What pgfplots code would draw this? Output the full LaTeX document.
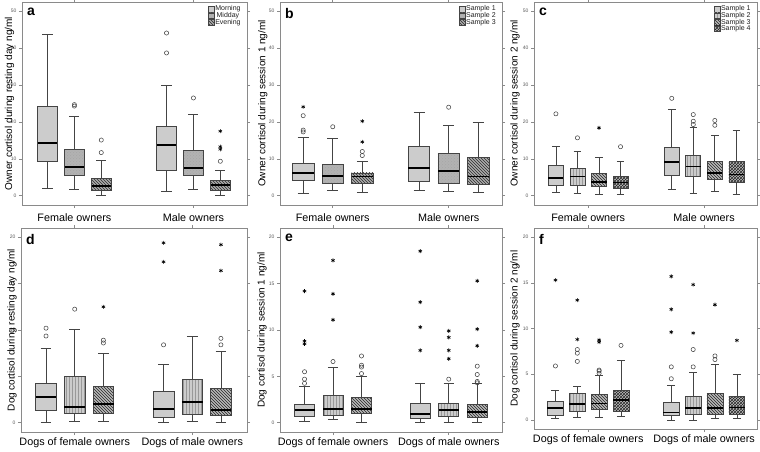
\documentclass[border=0pt]{standalone}
\usepackage{fontspec}
\setmainfont{Liberation Sans}
\usepackage{pgfplots}
\pgfplotsset{compat=1.18}
\usepgfplotslibrary{statistics}
\usetikzlibrary{patterns}

\definecolor{frame}{HTML}{8A8A8A}
\definecolor{boxline}{HTML}{444444}

% box fills
\tikzset{
  fA/.style={fill=gray!40},
  fM/.style={fill=gray!60, postaction={pattern=crosshatch dots, pattern color=gray!70}},
  fE/.style={fill=gray!65, postaction={pattern=north west lines, pattern color=gray!35!black}},
  fB/.style={fill=gray!40, postaction={pattern=vertical lines, pattern color=gray!80}},
  fC/.style={fill=gray!55, postaction={pattern=north west lines, pattern color=gray!30!black}},
  fD/.style={fill=gray!50, postaction={pattern=crosshatch, pattern color=gray!30!black}},
}

\pgfplotsset{
  panel/.style={scale only axis, anchor=south west, clip=false,
    axis line style={frame, line width=0.8pt},
    xtick={1,2}, tick align=outside, major tick length=3pt,
    tick style={frame, line width=0.6pt},
    xticklabel style={font=\fontsize{10.8}{12}\selectfont, yshift=-2.5pt},
    yticklabel style={font=\fontsize{5}{6}\selectfont, text=gray!70!black, xshift=1pt},
    /pgf/number format/assume math mode=true,
    ylabel style={font=\fontsize{10}{12}\selectfont, anchor=center},
    boxplot/draw direction=y,
    boxplot/every median/.style={draw=black, line width=1.6pt},
    legend style={at={(rel axis cs:0.975,0.985)}, anchor=north east, draw=none, fill=none,
      font=\fontsize{7}{7.5}\selectfont, inner sep=0pt, row sep=-1.2pt,
      nodes={inner sep=0.6pt}, text=gray!25!black},
  },
  toprow/.style={ymin=-2.5, ymax=52.5, ytick={0,10,...,50}, height=203pt,
    xticklabels={Female owners, Male owners}},
  botrow/.style={ymin=-1, ymax=21, ytick={0,5,...,20}, height=204pt,
    xticklabels={Dogs of female owners, Dogs of male owners},
    xticklabel style={inner sep=1.5pt, yshift=2pt}},
  olst/.style={only marks, mark=o, mark size=2.1pt, mark options={draw=boxline, line width=0.55pt}, forget plot},
  exst/.style={only marks, mark=asterisk, mark size=2pt, mark options={draw=black, line width=0.6pt}, forget plot},
}

% style, position, low whisker, Q1, median, Q3, high whisker
\newcommand{\bx}[7]{\addplot[forget plot, draw=boxline, line width=0.7pt,
  boxplot/every box/.style={#1},
  boxplot prepared={draw position=#2, lower whisker=#3, lower quartile=#4,
    median=#5, upper quartile=#6, upper whisker=#7}] coordinates {};}
\newcommand{\ol}[1]{\addplot[olst] coordinates {#1};}
\newcommand{\ex}[1]{\addplot[exst] coordinates {#1};}
\newcommand{\sw}[2]{\addlegendimage{legend image code/.code={\draw[#1, draw=boxline, line width=0.4pt] (0pt,-2.6pt) rectangle (6pt,3pt);}}\addlegendentry{#2}}
\newcommand{\letter}[1]{\node[anchor=north west, inner sep=0pt, font=\fontsize{14}{14}\selectfont\bfseries, xshift=5pt, yshift=-6pt] at (rel axis cs:0,1) {#1};}

\begin{document}
\begin{tikzpicture}
\useasboundingbox (0pt,0pt) rectangle (760pt,451pt);

% ---------- a ----------
\begin{axis}[panel, toprow, at={(22pt,246pt)}, width=225pt, xmin=0.56, xmax=2.45,
  boxplot/box extend=0.163, boxplot/whisker extend=0.085,
  ylabel={Owner cortisol during resting day ng/ml},
  ylabel style={at={(axis description cs:-0.055,0.5)}}]
\sw{fA}{Morning}
\sw{fM}{Midday}
\sw{fE}{Evening}
\bx{fA}{0.774}{2.07}{9.3}{14.3}{24.3}{43.7}
\bx{fM}{1}{1.8}{5.5}{7.8}{12.6}{21.6}
\bx{fE}{1.226}{0.1}{1.4}{2.6}{4.8}{9.5}
\bx{fA}{1.774}{1.27}{6.8}{13.7}{18.9}{29.9}
\bx{fM}{2}{1.8}{5.4}{7.5}{12.4}{22.0}
\bx{fE}{2.226}{0.1}{1.6}{2.9}{4.2}{6.8}
\ol{(1,24.3) (1,24.7) (1.226,11.7) (1.226,15.1) (1.774,38.7) (1.774,44.1) (2,26.5) (2.226,9.35)}
\ex{(2.226,12.6) (2.226,13.3) (2.226,17.5)}
\letter{a}
\end{axis}

% ---------- b ----------
\begin{axis}[panel, toprow, at={(280pt,246pt)}, width=222pt, xmin=0.545, xmax=2.46,
  boxplot/box extend=0.185, boxplot/whisker extend=0.095,
  ylabel={Owner cortisol during session 1 ng/ml},
  ylabel style={at={(axis description cs:-0.077,0.5)}}]
\sw{fA}{Sample 1}
\sw{fM}{Sample 2}
\sw{fE}{Sample 3}
\bx{fA}{0.745}{0.6}{4.1}{6.1}{8.8}{15.7}
\bx{fM}{1}{1.35}{3.4}{5.4}{8.5}{15.5}
\bx{fE}{1.255}{0.9}{3.4}{5.2}{6.2}{9.4}
\bx{fA}{1.745}{1.35}{3.8}{7.5}{13.3}{22.6}
\bx{fM}{2}{1.2}{3.3}{6.7}{11.5}{19.0}
\bx{fE}{2.255}{0.9}{3.0}{5.2}{10.3}{19.9}
\ol{(0.745,17.3) (0.745,17.8) (0.745,21.7) (1,18.7) (1.255,10.9) (1.255,12.0) (2,24.0)}
\ex{(0.745,24.1) (1.255,14.6) (1.255,20.2)}
\letter{b}
\end{axis}

% ---------- c ----------
\begin{axis}[panel, toprow, at={(534pt,246pt)}, width=223pt, xmin=0.532, xmax=2.457,
  boxplot/box extend=0.13, boxplot/whisker extend=0.065,
  ylabel={Owner cortisol during session 2 ng/ml},
  ylabel style={at={(axis description cs:-0.085,0.5)}}]
\sw{fA}{Sample 1}
\sw{fB}{Sample 2}
\sw{fC}{Sample 3}
\sw{fD}{Sample 4}
\bx{fA}{0.721}{1.0}{2.7}{4.75}{8.3}{13.5}
\bx{fB}{0.907}{0.7}{2.7}{5.2}{7.4}{12.1}
\bx{fC}{1.093}{0.27}{2.5}{3.7}{6.1}{10.5}
\bx{fD}{1.279}{0.27}{1.9}{3.6}{5.2}{9.4}
\bx{fA}{1.721}{1.8}{5.5}{9.2}{13.0}{23.4}
\bx{fB}{1.907}{0.7}{5.2}{7.9}{11.0}{18.6}
\bx{fC}{2.093}{1.2}{4.5}{6.1}{9.4}{16.4}
\bx{fD}{2.279}{0.27}{3.6}{5.8}{9.2}{17.7}
\ol{(0.721,22.2) (0.907,15.7) (1.279,13.3) (1.721,26.4) (1.907,19.3) (1.907,20.2) (1.907,22.0) (2.093,19.1) (2.093,20.4)}
\ex{(1.093,18.4)}
\letter{c}
\end{axis}

% ---------- d ----------
\begin{axis}[panel, botrow, at={(21pt,19pt)}, width=226pt, xmin=0.543, xmax=2.466,
  boxplot/box extend=0.176, boxplot/whisker extend=0.09,
  ylabel={Dog cortisol during resting day ng/ml},
  ylabel style={at={(axis description cs:-0.04,0.5)}}]
\bx{fA}{0.756}{0.07}{1.35}{2.8}{4.2}{8.0}
\bx{fB}{1}{0.2}{1.0}{1.7}{5.0}{10.1}
\bx{fC}{1.244}{0.15}{1.0}{2.0}{3.9}{7.45}
\bx{fA}{1.756}{0.07}{0.55}{1.5}{3.35}{6.25}
\bx{fB}{2}{0.15}{0.87}{2.25}{4.7}{9.35}
\bx{fC}{2.244}{0.07}{0.8}{1.4}{3.7}{7.75}
\ol{(0.756,9.35) (0.756,10.2) (1,12.25) (1.244,8.6) (1.244,8.9) (1.756,8.4) (2.244,8.4) (2.244,9.1)}
\ex{(1.244,12.5) (1.756,17.35) (1.756,19.4) (2.244,16.4) (2.244,19.2)}
\letter{d}
\end{axis}

% ---------- e ----------
\begin{axis}[panel, botrow, at={(280pt,19pt)}, width=222pt, height=204pt, xmin=0.542, xmax=2.46,
  boxplot/box extend=0.173, boxplot/whisker extend=0.088,
  ylabel={Dog cortisol during session 1 ng/ml},
  ylabel style={at={(axis description cs:-0.081,0.5)}}]
\bx{fA}{0.754}{0.1}{0.65}{1.4}{2.0}{3.9}
\bx{fB}{1}{0.36}{0.83}{1.5}{2.9}{6.0}
\bx{fC}{1.246}{0.05}{1.0}{1.5}{2.7}{4.95}
\bx{fA}{1.754}{0.0}{0.5}{0.95}{2.1}{4.25}
\bx{fB}{2}{0.0}{0.7}{1.4}{2.1}{4.2}
\bx{fC}{2.246}{0.0}{0.6}{1.15}{2.0}{4.2}
\ol{(0.754,4.25) (0.754,4.7) (0.754,5.5) (1,6.6) (1.246,5.3) (1.246,6.0) (1.246,6.2) (1.246,7.2) (2,4.7) (2.246,4.3) (2.246,4.45) (2.246,5.2) (2.246,6.1)}
\ex{(0.754,8.5) (0.754,8.8) (0.754,14.2) (1,11.1) (1,13.9) (1,17.5) (1.754,7.8) (1.754,10.3) (1.754,13.0) (1.754,18.5) (2,6.9) (2,7.8) (2,9.2) (2,9.9) (2.246,8.3) (2.246,10.1) (2.246,15.3)}
\letter{e}
\end{axis}

% ---------- f ----------
\begin{axis}[panel, botrow, at={(534pt,22pt)}, width=223pt, height=201pt, xmin=0.532, xmax=2.457,
  boxplot/box extend=0.138, boxplot/whisker extend=0.07,
  ylabel={Dog cortisol during session 2 ng/ml},
  ylabel style={at={(axis description cs:-0.085,0.5)}}]
\bx{fA}{0.717}{0.2}{0.5}{1.3}{2.0}{3.2}
\bx{fB}{0.906}{0.3}{0.97}{1.75}{2.85}{3.7}
\bx{fC}{1.094}{0.3}{1.2}{1.8}{2.75}{4.9}
\bx{fD}{1.283}{0.4}{0.97}{2.15}{3.25}{6.55}
\bx{fA}{1.717}{0.0}{0.5}{0.8}{1.95}{3.8}
\bx{fB}{1.906}{0.0}{0.65}{1.3}{2.55}{5.2}
\bx{fC}{2.094}{0.2}{0.6}{1.3}{2.85}{6.05}
\bx{fD}{2.283}{0.15}{0.65}{1.35}{2.6}{4.95}
\ol{(0.717,5.9) (0.906,6.4) (0.906,7.3) (0.906,7.7) (1.094,5.1) (1.094,5.35) (1.094,5.45) (1.283,8.15) (1.717,4.5) (1.717,5.8) (1.906,5.8) (1.906,7.7) (2.094,6.6) (2.094,7.0)}
\ex{(0.717,15.3) (0.906,8.8) (0.906,13.1) (1.094,8.5) (1.094,8.75) (1.717,9.6) (1.717,12.1) (1.717,15.7) (1.906,9.5) (1.906,14.8) (2.094,12.6) (2.283,8.7)}
\letter{f}
\end{axis}
\end{tikzpicture}
\end{document}
